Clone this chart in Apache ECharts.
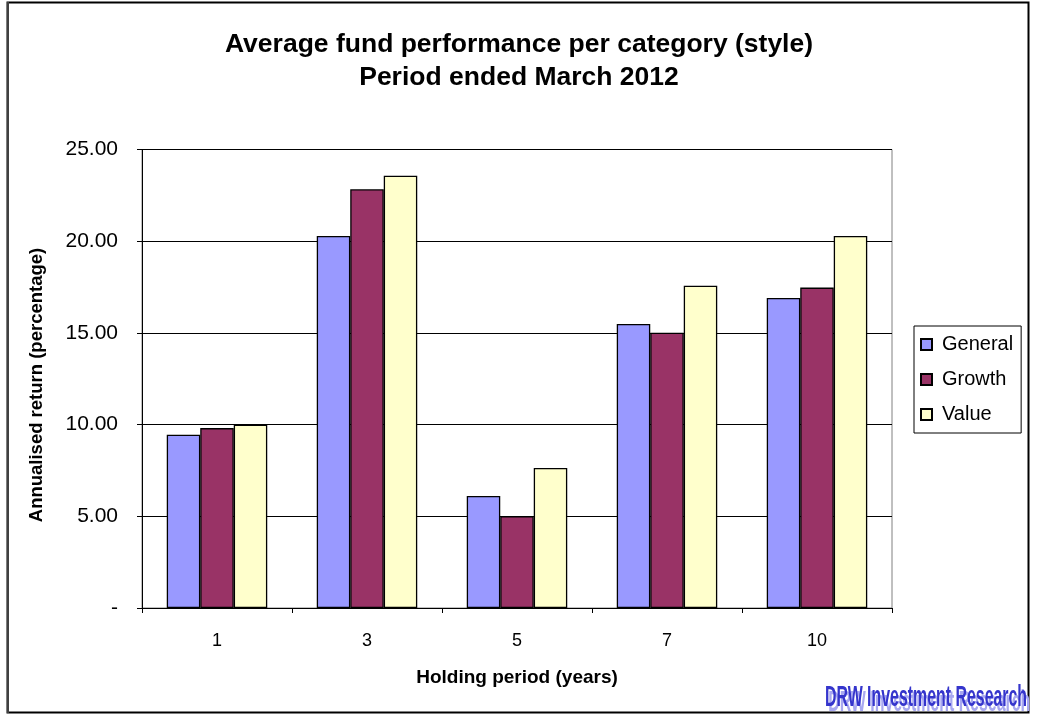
<!DOCTYPE html>
<html>
<head>
<meta charset="utf-8">
<script src="https://cdn.jsdelivr.net/npm/echarts@6/dist/echarts.min.js"></script>
<style>
html,body{margin:0;padding:0;background:#fff;}
#c{width:1037px;height:717px;}
</style>
</head>
<body>
<div id="c"></div>
<script>
const categories = ['1', '3', '5', '7', '10'];
const generalValues = [9.45, 20.28, 6.11, 15.49, 16.90];
const growthValues = [9.81, 22.83, 5.00, 15.01, 17.47];
const valueValues = [10.00, 23.57, 7.63, 17.57, 20.28];
const seriesNames = ['General', 'Growth', 'Value'];
const yTicks = [0, 5, 10, 15, 20, 25];

const FONT = '"Liberation Sans", Arial, sans-serif';
const chart = echarts.init(document.getElementById('c'), null, {renderer: 'canvas'});

function bar(name, data, color) {
  return {
    name: name, type: 'bar', data: data,
    barGap: '0%', barCategoryGap: '33%',
    itemStyle: {color: color, borderColor: '#000', borderWidth: 1.3},
    emphasis: {disabled: true}
  };
}

chart.setOption({
  animation: false,
  backgroundColor: '#fff',
  title: {
    text: 'Average fund performance per category (style)\nPeriod ended March 2012',
    left: 514, textAlign: 'center', top: 23,
    textStyle: {fontFamily: FONT, fontWeight: 'bold', fontSize: 26.5, lineHeight: 33, color: '#000'}
  },
  legend: {
    orient: 'vertical', left: 914, top: 326,
    data: seriesNames,
    icon: 'rect', itemWidth: 11, itemHeight: 11, itemGap: 14,
    padding: [8, 8, 8, 6],
    borderColor: '#000', borderWidth: 1,
    textStyle: {fontFamily: FONT, fontSize: 20, color: '#000', lineHeight: 21, padding: [0, 0, 0, 5]}
  },
  grid: {left: 142, right: 145, top: 149.5, bottom: 109, show: true, borderColor: '#808080', borderWidth: 1},
  xAxis: {
    type: 'category', data: categories,
    name: 'Holding period (years)', nameLocation: 'middle', nameGap: 60,
    nameTextStyle: {fontFamily: FONT, fontWeight: 'bold', fontSize: 19, color: '#000'},
    axisLine: {lineStyle: {color: '#000', width: 1}},
    axisTick: {show: true, alignWithLabel: false, length: 5, lineStyle: {color: '#000'}},
    axisLabel: {fontFamily: FONT, fontSize: 18, color: '#000', margin: 24}
  },
  yAxis: {
    type: 'value', min: 0, max: 25, interval: 5,
    axisLine: {show: true, lineStyle: {color: '#000', width: 1}},
    axisTick: {show: true, length: 5, lineStyle: {color: '#000'}},
    axisLabel: {fontFamily: FONT, fontSize: 21, color: '#000', margin: 24,
      formatter: function (v) { return yTicks.indexOf(v) === 0 ? '-' : v.toFixed(2); }},
    splitLine: {lineStyle: {color: '#000', width: 1}}
  },
  series: [
    bar(seriesNames[0], generalValues, '#9999ff'),
    bar(seriesNames[1], growthValues, '#993366'),
    bar(seriesNames[2], valueValues, '#ffffcc')
  ],
  graphic: [
    {type: 'rect', shape: {x: 7.5, y: 2.5, width: 1021, height: 710}, style: {fill: 'none', stroke: '#000', lineWidth: 2}, silent: true, z: -1},
    {type: 'rect', shape: {x: 7, y: 2, width: 2, height: 711}, style: {fill: '#404040'}, silent: true},
    {type: 'text', x: 37, y: 385, rotation: Math.PI / 2, silent: true,
      style: {text: 'Annualised return (percentage)', font: 'bold 18.5px "Liberation Sans", sans-serif', fill: '#000', textAlign: 'center', textVerticalAlign: 'middle'}},
    {type: 'group', x: 825, y: 683, scaleX: 0.53, silent: true, z: 10, children: [
      {type: 'text', x: 6, y: 5, style: {text: 'DRW Investment Research', font: 'bold 30px "Liberation Sans", sans-serif', fill: '#a8a8f0'}, z: 10},
      {type: 'text', x: 0, y: 0, style: {text: 'DRW Investment Research', font: 'bold 30px "Liberation Sans", sans-serif', fill: '#3535cc'}, z: 11}
    ]}
  ]
});
</script>
</body>
</html>
